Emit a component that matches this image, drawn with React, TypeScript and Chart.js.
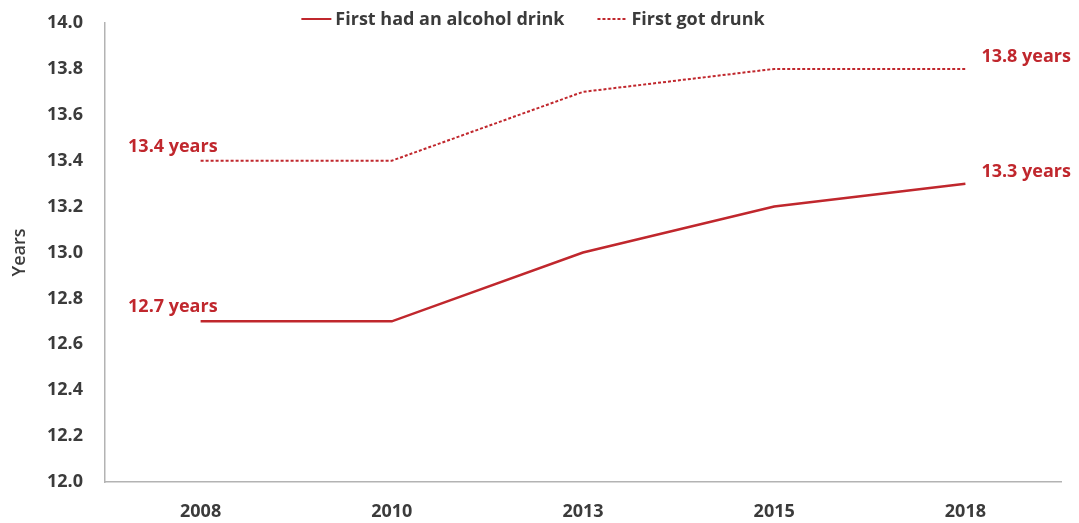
import React, { useEffect, useRef } from "react";
import { Chart, registerables } from "chart.js";

Chart.register(...registerables);

const years = ["2008", "2010", "2013", "2015", "2018"];
const firstDrink = [12.7, 12.7, 13.0, 13.2, 13.3];
const firstDrunk = [13.4, 13.4, 13.7, 13.8, 13.8];
const seriesNames = ["First had an alcohol drink", "First got drunk"];
const yMin = 12.0;
const yMax = 14.0;
const yStep = 0.2;
const axisTitle = "Years";
const labelSuffix = " years";

const RED = "#C0272D";
const TEXT = "#3b3b3b";
const AXIS = "#b3b3b3";
const FONT = "'Open Sans', Lato, sans-serif";

const legendPlugin = {
  id: "customLegend",
  afterDraw(chart: any) {
    const ctx = chart.ctx;
    ctx.save();
    ctx.font = `bold 18px ${FONT}`;
    ctx.textBaseline = "middle";
    ctx.textAlign = "left";
    const sampleW = 30;
    const gap = 4;
    const itemGap = 33;
    const ds = chart.data.datasets;
    const widths = ds.map((d: any) => ctx.measureText(d.label).width);
    let total = 0;
    widths.forEach((w: number, i: number) => {
      total += sampleW + gap + w + (i < widths.length - 1 ? itemGap : 0);
    });
    let x = 533 - total / 2;
    const y = 19;
    ds.forEach((d: any, i: number) => {
      ctx.strokeStyle = d.borderColor;
      ctx.lineWidth = 2;
      ctx.setLineDash(d.borderDash || []);
      ctx.beginPath();
      ctx.moveTo(x, y);
      ctx.lineTo(x + sampleW, y);
      ctx.stroke();
      ctx.setLineDash([]);
      ctx.fillStyle = TEXT;
      ctx.fillText(d.label, x + sampleW + gap, y + 1);
      x += sampleW + gap + widths[i] + itemGap;
    });
    ctx.restore();
  },
};

const endLabelPlugin = {
  id: "endLabels",
  afterDatasetsDraw(chart: any) {
    const ctx = chart.ctx;
    ctx.save();
    ctx.font = `bold 18px ${FONT}`;
    ctx.fillStyle = RED;
    ctx.textBaseline = "middle";
    chart.data.datasets.forEach((d: any, i: number) => {
      const meta = chart.getDatasetMeta(i);
      const pts = meta.data;
      const first = pts[0];
      const last = pts[pts.length - 1];
      const v0 = d.data[0];
      const v1 = d.data[d.data.length - 1];
      ctx.textAlign = "right";
      ctx.fillText(`${v0.toFixed(1)}${labelSuffix}`, first.x + 17, first.y - 14);
      ctx.textAlign = "left";
      ctx.fillText(`${v1.toFixed(1)}${labelSuffix}`, last.x + 16, last.y - 12);
    });
    ctx.restore();
  },
};

export default function App() {
  const ref = useRef<HTMLCanvasElement | null>(null);

  useEffect(() => {
    if (!ref.current) return;
    const chart = new Chart(ref.current, {
      type: "line",
      data: {
        labels: years,
        datasets: [
          {
            label: seriesNames[0],
            data: firstDrink,
            borderColor: RED,
            backgroundColor: RED,
            borderWidth: 2.5,
            pointRadius: 0,
            tension: 0,
            fill: false,
          },
          {
            label: seriesNames[1],
            data: firstDrunk,
            borderColor: RED,
            backgroundColor: RED,
            borderWidth: 2,
            borderDash: [3, 2],
            pointRadius: 0,
            tension: 0,
            fill: false,
          },
        ],
      },
      options: {
        animation: false,
        responsive: false,
        maintainAspectRatio: false,
        layout: { padding: { top: 23, right: 18, left: 0, bottom: 0 } },
        plugins: {
          legend: { display: false },
          tooltip: { enabled: false },
        },
        scales: {
          x: {
            type: "category",
            offset: true,
            grid: { display: false, drawTicks: false },
            border: { display: true, color: AXIS, width: 1.5 },
            ticks: {
              color: TEXT,
              font: { family: FONT, size: 18, weight: "bold" },
              padding: 19,
              maxRotation: 0,
            },
            afterFit(scale: any) {
              scale.height = 41;
              scale.paddingLeft = 0;
              scale.paddingRight = 0;
            },
          },
          y: {
            min: yMin,
            max: yMax,
            grid: { display: false, drawTicks: false },
            border: { display: true, color: AXIS, width: 1.5 },
            ticks: {
              stepSize: yStep,
              color: TEXT,
              font: { family: FONT, size: 18, weight: "bold" },
              padding: 22,
              callback: (v: any) => Number(v).toFixed(1),
            },
            title: {
              display: true,
              text: axisTitle,
              color: TEXT,
              font: { family: FONT, size: 18, weight: "600" },
              padding: { top: 9, bottom: 0 },
            },
            afterFit(scale: any) {
              scale.width = 105;
              scale.paddingTop = 0;
              scale.paddingBottom = 0;
            },
          },
        },
      },
      plugins: [legendPlugin, endLabelPlugin],
    } as any);
    return () => chart.destroy();
  }, []);

  return (
    <div style={{ position: "fixed", left: 0, top: 0, width: 1079, height: 523, background: "#fff" }}>
      <canvas ref={ref} width={1079} height={523} style={{ width: 1079, height: 523, display: "block" }} />
    </div>
  );
}
